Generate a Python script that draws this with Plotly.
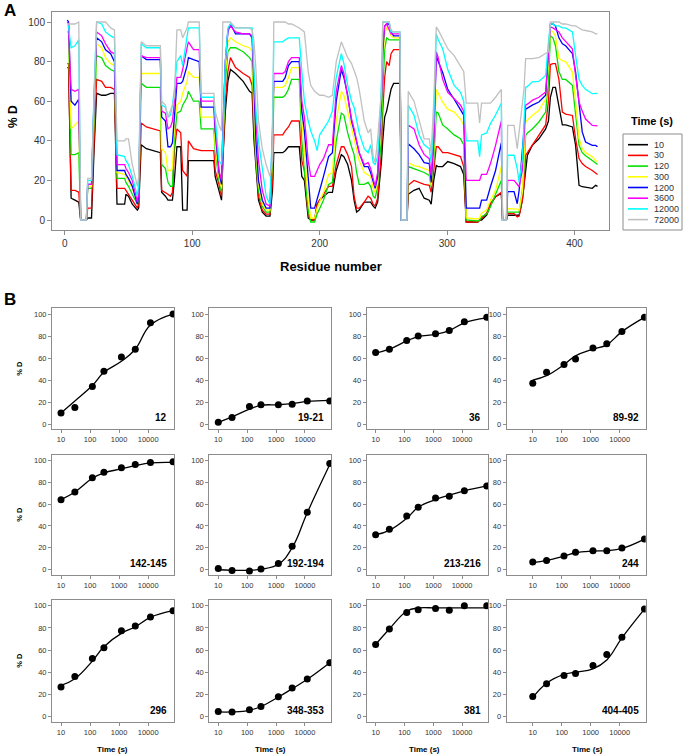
import plotly.graph_objects as go

W, H = 685, 756
FONT = "Arial, Liberation Sans, sans-serif"


def px(x):
    return x / W


def py(y):
    return 1 - y / H


# ---------------- Panel A data ----------------
residue = [
    2, 3, 4, 5, 8, 11, 12.5, 17, 18, 21,
    23, 25, 29, 32, 36, 39, 41, 47, 48, 50,
    53, 57, 58, 60, 64, 75, 76, 79, 81, 83,
    84.5, 86, 88, 91, 92.5, 96, 97, 101, 105.5, 107,
    117, 118, 121, 123, 124, 126, 128, 130, 134, 140,
    145, 147, 148.5, 150, 152, 155, 158, 161, 163, 164,
    171, 173, 175.5, 178, 184, 186, 188, 191, 193, 196,
    198, 200, 203, 207, 210, 213, 217, 219, 222, 225,
    227, 229, 231, 235, 238, 240, 242, 243.5, 245.5, 247,
    248.5, 249.5, 251, 252.5, 254.5, 256, 258, 263, 264, 268.5,
    269.5, 274, 278, 282, 286, 287.5, 289.5, 291.5, 293, 296.5,
    300.5, 305.5, 310.5, 313, 315, 324, 325.5, 327, 331, 334,
    338, 342.5, 343.5, 346.5, 347.5, 352.5, 355, 356.5, 359, 360.3,
    361.6, 363, 366.8, 372, 377.3, 379.5, 381, 383, 385, 387.7,
    390.4, 393, 398.3, 400.8, 403.5, 406, 408.6, 413.9, 416.5, 418,
]

d_10 = [
    77, 77, 45, 11, 10, 9, 0, 0, 1, 1,
    35, 64, 63, 63, 64, 64, 8, 8, 13, 12,
    8, 5, 6, 38, 36, 34, 14, 12, 10, 10,
    10, 20, 37, 37, 5, 5, 30, 30, 30, 30,
    30, 22, 15, 10, 30, 55, 70, 76, 74, 70,
    65, 64, 40, 25, 10, 4, 2, 2, 15, 34,
    34, 35, 37, 37, 37, 22, 20, 1, 0, 0,
    8, 10, 12, 14, 14, 25, 33, 32, 28, 20,
    10, 4, 5, 9, 9, 9, 7, 6, 9, 18,
    30, 40, 52, 55, 61, 66, 69, 69, 0, 0,
    13, 15, 16, 11, 10, 8, 20, 27.5, 27, 27,
    29.5, 28.5, 27, 23, -1, -1, 0, 0, 2.5, 7.6,
    11.8, 13.4, 0, 0, 2.4, 2.4, 2.4, 2.4, 10, 17.5,
    25, 32.7, 37.7, 41, 46, 50, 62, 67, 67, 58,
    48, 48, 47, 37.7, 17.5, 16.8, 16.5, 16, 17.5, 17,
]
d_30 = [
    79, 79, 45, 15, 15, 14, 0, 0, 6, 6,
    40, 71, 70, 67, 67, 66, 16, 16, 15, 13,
    10, 6, 8, 49, 47, 45, 15, 14, 13, 12,
    14, 35, 46, 44, 25, 22, 40, 36, 35, 35,
    35, 25, 18, 12, 30, 60, 75, 82, 77, 74,
    72, 68, 45, 30, 12, 5, 3, 3, 20, 43,
    43, 45, 47, 50, 50, 30, 25, 3, 0, 0,
    8, 10, 13, 17, 17, 28, 37, 37, 33, 27,
    12, 6, 6, 9, 12, 11, 8, 7, 11, 22,
    35, 55, 72, 80, 78, 84, 86, 86, 0, 0,
    17.5, 20, 19, 18, 17.5, 14, 25, 37, 37, 34,
    34, 33, 32, 27, -1, -1, 0, 1, 3.4, 8.4,
    11.8, 14, 0, 0, 3.2, 3.2, 1.5, 2, 10, 17.5,
    32.7, 34, 37.7, 42.8, 48, 60, 78.5, 79, 79, 71,
    54.5, 53.5, 52.8, 41, 31, 28.5, 27, 25, 23.4, 23,
]
d_120 = [
    95, 95, 62, 33, 33, 34, 0, 0, 16, 16,
    50, 83, 82, 78, 76, 75, 21, 21, 19, 17,
    13, 8, 10, 69, 67, 67, 28, 26, 19, 17,
    17, 40, 54, 55, 58, 62, 65, 60, 60, 46,
    46, 35, 20, 14, 35, 70, 85, 87, 87, 85,
    82, 80, 50, 30, 15, 7, 4, 4, 30, 62,
    62, 63, 66, 71, 71, 40, 25, 5, -1, -1,
    3, 6, 10, 18, 19, 40, 54, 53, 44, 37,
    33, 24, 18, 18, 19, 17, 12, 11, 17, 30,
    42, 65, 86, 92, 91, 91, 91, 91, 0, 0,
    27, 26, 25, 24, 22.5, 16.7, 30, 54.5, 54, 48,
    46, 43, 41, 38, 0, -0.5, 0, 1.7, 3, 6.7,
    13, 20, 0, 0, 4, 4, 4, 4, 15, 25,
    42.8, 44, 46, 49.5, 54.5, 70, 93, 92, 88, 75,
    71, 71, 68, 54.5, 37.7, 34, 32.5, 30, 28.5, 28,
]
d_300 = [
    97, 97, 70, 46, 48, 50, 0, 0, 17, 17,
    55, 89, 87, 82, 79, 78, 24, 23, 22, 20,
    16, 9, 12, 74, 74, 74, 36, 34, 25, 25,
    26, 48, 58, 60, 64, 70, 75, 72, 72, 52,
    52, 38, 22, 16, 40, 75, 90, 92, 90, 88,
    87, 85, 55, 35, 18, 8, 5, 5, 35, 67,
    67, 68, 72, 77, 77, 50, 35, 10, 1, 1,
    6, 9, 14, 23, 24, 50, 65, 63, 55, 46,
    41, 36, 30, 24, 23, 22, 16, 14, 19, 38,
    55, 80, 94, 97, 96, 93, 92, 92, 0, 0,
    29, 27.5, 27, 26, 25, 17.5, 35, 66, 64, 59.5,
    56, 54.5, 51, 48, 1, 0.5, 1, 3.4, 5, 10,
    15, 27, 0, 0, 5.7, 5.7, 5.5, 5, 14, 30,
    49.5, 50.5, 52.8, 55.4, 61, 80, 96, 95, 93, 81.5,
    80.5, 80, 74.7, 59.6, 41, 36, 34, 32, 30, 29.5,
]
d_1200 = [
    101, 100, 78, 60, 58, 61, 0, 0, 18, 18,
    60, 92, 90, 86, 84, 80, 25, 25, 23, 21,
    17, 8, 12, 83, 81, 81, 52, 50, 37, 37,
    39, 52, 69, 69, 70, 78, 82, 81, 80, 57,
    57, 45, 24, 18, 45, 80, 95, 99, 94, 94,
    94, 92, 62, 40, 20, 10, 6, 6, 40, 70,
    70, 72, 78, 80, 80, 55, 45, 20, 6, 6,
    10, 15, 22, 32, 34, 60, 76, 72, 63, 50,
    45, 40, 34, 27, 27, 24, 19, 16, 22, 42,
    60, 85, 98, 99, 99, 95, 93, 93, 0, 0,
    38.5, 36, 33, 29, 28.5, 19, 40, 83, 80, 74.5,
    66, 61, 56, 53, 6, 6, 6, 10, 10, 16.8,
    25, 39, 0, 0, 14.3, 14.3, 8.2, 15, 35, 45,
    56, 56.5, 58, 59.6, 63, 85, 99, 99, 98, 92,
    89, 88, 84, 74.7, 59.6, 44.5, 39.4, 37.7, 37.7, 37,
]
d_3600 = [
    100, 99, 80, 66, 65, 66, 0, 0, 18, 18,
    62, 95, 93, 89, 85, 84, 28, 28, 26, 24,
    20, 9, 14, 83, 82, 82, 55, 54, 46, 47,
    50, 61, 72, 72, 76, 87, 90, 86, 86, 60,
    60, 48, 25, 20, 45, 80, 96, 98, 95, 94,
    94, 93, 68, 50, 30, 15, 8, 7, 45, 74,
    74, 75, 80, 82, 82, 60, 52, 30, 22, 22,
    25, 28, 31, 38, 38, 65, 78, 74, 62, 51,
    46, 40, 34, 28, 29, 26, 20, 17, 24, 44,
    62, 88, 98, 99, 96, 94, 94, 94, 0, 0,
    48, 46, 38, 33, 31, 22.5, 40, 85, 82, 71,
    64.5, 61, 58, 55, 20, 20, 20, 23, 23, 28.5,
    37.7, 50, 0, 0, 20, 20, 18, 16.8, 25, 40,
    58, 58.5, 60.4, 62, 64.6, 85, 97.5, 97, 96, 95,
    92, 90, 86.5, 73, 59.6, 55, 51, 47.8, 47.8, 47.5,
]
d_12000 = [
    98, 98, 92, 87, 88, 91, 0, 0, 20, 20,
    65, 100, 99, 95, 93, 92, 33, 32, 30, 28,
    22, 12, 18, 89, 87, 87, 58, 57, 52, 53,
    58, 66, 80, 83, 78, 94, 97, 97, 97, 62,
    62, 52, 30, 28, 40, 80, 97, 99, 97, 97,
    97, 97, 75, 55, 40, 25, 12, 8, 50, 90,
    90, 91, 92, 92, 92, 75, 60, 50, 45, 40,
    35, 43, 46, 50, 55, 72, 84, 79, 68, 60,
    57, 50, 44, 36, 34, 38, 29, 28, 32, 46,
    70, 100, 100, 100, 100, 95, 95, 95, 0, 0,
    58, 53, 43, 38, 36, 29, 50, 94, 91, 86.5,
    76, 68, 64.5, 60, 40, 40, 32, 43, 44, 48.7,
    53, 59, 0, 0, 32.7, 32.7, 26, 19, 31, 50,
    67, 67.5, 69.8, 70, 73, 90, 99, 99, 98, 98,
    97, 97, 95, 83, 71, 68, 66, 63.8, 63.8, 64,
]
d_72000 = [
    99, 99, 99, 99, 99, 100, 0, 0, 21, 21,
    65, 100, 100, 100, 97, 96, 40, 40, 41, 41,
    28, 17, 22, 90, 88, 88, 60, 58, 52, 55,
    58, 62, 96, 96, 92, 97, 100, 100, 100, 64,
    64, 55, 48, 45, 100, 100, 100, 100, 97, 97,
    97, 96, 90, 76, 50, 36, 28, 22, 30, 100,
    100, 100, 99, 99, 97, 96, 95, 75, 68, 65,
    64, 63, 63, 62, 63, 80, 90, 87, 82, 79,
    75, 72, 66, 50, 44, 46, 32, 29, 41, 55,
    65, 100, 100, 100, 100, 96, 95, 95, 0, 0,
    65, 60, 51, 41, 41, 34, 60, 97.5, 96, 91.5,
    86.5, 83, 78, 75, 59, 59, 49, 59, 59, 59,
    62, 66, 0, 0, 47.8, 47.8, 36, 45, 58, 66,
    81.5, 81.5, 81.5, 82, 84, 85, 100, 100, 100, 100,
    99, 99, 98, 98, 97, 96, 95.7, 95, 94, 94,
]

time_labels = ["10", "30", "120", "300", "1200", "3600", "12000", "72000"]
series_A = [d_10, d_30, d_120, d_300, d_1200, d_3600, d_12000, d_72000]
colors = ["#000000", "#ff0000", "#00e000", "#ffff00", "#0000ff", "#ff00ff", "#00ffff", "#c0c0c0"]

# ---------------- Panel B data ----------------
times = [10, 30, 120, 300, 1200, 3600, 12000, 72000]
x_ticks = [10, 100, 1000, 10000]
y_ticks = [0, 20, 40, 60, 80, 100]

peptides = ["12", "19-21", "36", "89-92", "142-145", "192-194",
            "213-216", "244", "296", "348-353", "381", "404-405"]

obs_12 = [10, 15, 34, 48, 61, 68, 92, 100]
fit_12 = [10, 21, 35, 47, 57, 68, 90, 100]
obs_19_21 = [1.5, 6, 16, 17.5, 17.5, 18, 21, 21]
fit_19_21 = [1.5, 6.5, 13.5, 17, 17.5, 18.5, 20.5, 21.5]
obs_36 = [65, 68, 76, 80, 82, 85, 93, 97]
fit_36 = [64.5, 68, 75.5, 79.5, 81.5, 85, 92, 96.5]
obs_89_92 = [37, 47, 54, 59, 69, 73, 84, 97]
fit_89_92 = [40, 44, 54, 62, 68, 72, 84, 97]
obs_142_145 = [64, 71, 84, 89, 93, 96, 98, 98.5]
fit_142_145 = [64, 71, 83.5, 88.5, 92, 95, 97.5, 98]
obs_192_194 = [1.2, -0.6, -1.2, 0.6, 5.8, 21.5, 52.4, 97]
fit_192_194 = [0, -0.5, -0.5, 0.5, 5, 20, 52, 96]
obs_213_216 = [32, 37, 49, 57, 65.5, 67, 72, 76.5]
fit_213_216 = [32, 36, 47, 57, 64, 68, 72, 76.5]
obs_244 = [7, 8.4, 12.6, 16, 17.4, 17.4, 19.8, 28]
fit_244 = [6.5, 8.5, 12.5, 15.5, 17, 17.5, 19.5, 28]
obs_296 = [26.5, 36, 52.4, 62, 77.4, 81.6, 89.8, 95.5]
fit_296 = [28, 34, 50, 63, 75, 81, 89.5, 95.5]
obs_348_353 = [4.5, 4, 6, 9, 17.8, 25.6, 33.7, 48.5]
fit_348_353 = [4, 4, 5.5, 9, 17.5, 25, 33.5, 48.5]
obs_381 = [65, 79, 94, 96.5, 97.6, 96, 100, 100]
fit_381 = [65, 79, 95, 98, 98, 98, 98, 98]
obs_404_405 = [18, 29.4, 37, 38.7, 46, 56, 71.5, 97]
fit_404_405 = [17, 30, 38, 40, 43, 51, 71, 97]

obs_all = [obs_12, obs_19_21, obs_36, obs_89_92, obs_142_145, obs_192_194,
           obs_213_216, obs_244, obs_296, obs_348_353, obs_381, obs_404_405]
fit_all = [fit_12, fit_19_21, fit_36, fit_89_92, fit_142_145, fit_192_194,
           fit_213_216, fit_244, fit_296, fit_348_353, fit_381, fit_404_405]

# ---------------- Layout geometry (pixels) ----------------
col_px = [(52, 174.3), (209.3, 331), (366.7, 488), (506.7, 645.7)]
row_px = [(308.3, 429.3), (454.5, 575), (600, 721.7)]
x_ranges = [[0.69, 4.9], [0.69, 4.9], [0.69, 4.9], [0.10, 4.9]]
time_title_x = [112, 270, 424, 587]

AX_COL = "#8c8c8c"
TICK_COL = "#333333"

fig = go.Figure()

# Panel A traces
for lab, col, vals in zip(time_labels, colors, series_A):
    fig.add_trace(go.Scatter(x=residue, y=vals, mode="lines", name=lab,
                             line=dict(color=col, width=1.3),
                             xaxis="x", yaxis="y", showlegend=False))

layout = dict(
    width=W, height=H,
    margin=dict(l=0, r=0, t=0, b=0),
    paper_bgcolor="white", plot_bgcolor="white",
    font=dict(family=FONT, color=TICK_COL),
    showlegend=False,
)

layout["xaxis"] = dict(
    domain=[px(52), px(609)], anchor="y", range=[-10, 427],
    tickvals=[0, 100, 200, 300, 400], ticks="outside", ticklen=4,
    tickcolor=AX_COL, showline=True, mirror=True, linecolor=AX_COL,
    linewidth=1, showgrid=False, zeroline=False,
    tickfont=dict(size=10, color=TICK_COL),
)
layout["yaxis"] = dict(
    domain=[py(230), py(12)], anchor="x", range=[-5.05, 105.05],
    tickvals=[0, 20, 40, 60, 80, 100], ticks="outside", ticklen=4,
    tickcolor=AX_COL, showline=True, mirror=True, linecolor=AX_COL,
    linewidth=1, showgrid=False, zeroline=False,
    tickfont=dict(size=10, color=TICK_COL),
)

annotations = []
shapes = []

annotations.append(dict(text="<b>A</b>", x=px(2), y=py(11), xref="paper", yref="paper",
                        xanchor="left", yanchor="middle", showarrow=False,
                        font=dict(size=17, color="black")))
annotations.append(dict(text="<b>B</b>", x=px(2), y=py(300), xref="paper", yref="paper",
                        xanchor="left", yanchor="middle", showarrow=False,
                        font=dict(size=17, color="black")))
annotations.append(dict(text="<b>% D</b>", x=px(13), y=py(117), xref="paper", yref="paper",
                        xanchor="center", yanchor="middle", showarrow=False, textangle=-90,
                        font=dict(size=12, color="black")))
annotations.append(dict(text="<b>Residue number</b>", x=px(331), y=py(266), xref="paper",
                        yref="paper", xanchor="center", yanchor="middle", showarrow=False,
                        font=dict(size=13, color="black")))

# Legend for panel A (drawn manually)
shapes.append(dict(type="rect", xref="paper", yref="paper", x0=px(623), x1=px(682),
                   y0=py(230), y1=py(134), line=dict(color=AX_COL, width=1),
                   fillcolor="white", layer="above"))
annotations.append(dict(text="<b>Time (s)</b>", x=px(652), y=py(121), xref="paper",
                        yref="paper", xanchor="center", yanchor="middle", showarrow=False,
                        font=dict(size=11, color="black")))
leg_y = [144.7, 155.4, 166.1, 176.8, 187.5, 198.2, 208.9, 219.6]
for lab, col, yy in zip(time_labels, colors, leg_y):
    shapes.append(dict(type="line", xref="paper", yref="paper", x0=px(628), x1=px(648),
                       y0=py(yy), y1=py(yy), line=dict(color=col, width=1.6), layer="above"))
    annotations.append(dict(text=lab, x=px(652), y=py(yy), xref="paper", yref="paper",
                            xanchor="left", yanchor="middle", showarrow=False,
                            font=dict(size=9, color=TICK_COL)))

# Panel B
for k, (pep, ob, ft) in enumerate(zip(peptides, obs_all, fit_all)):
    r, c = divmod(k, 4)
    n = k + 2
    xa, ya = f"x{n}", f"y{n}"
    fig.add_trace(go.Scatter(x=times, y=ft, mode="lines",
                             line=dict(color="black", width=1.3, shape="spline", smoothing=1.2),
                             xaxis=xa, yaxis=ya, showlegend=False))
    fig.add_trace(go.Scatter(x=times, y=ob, mode="markers",
                             marker=dict(color="black", size=7),
                             xaxis=xa, yaxis=ya, showlegend=False))
    x0, x1 = col_px[c]
    y0, y1 = row_px[r]
    layout[f"xaxis{n}"] = dict(
        domain=[px(x0), px(x1)], anchor=ya, type="log", range=x_ranges[c],
        tickvals=x_ticks, ticktext=[str(v) for v in x_ticks],
        ticks="outside", ticklen=3, tickcolor=AX_COL,
        showline=True, mirror=True, linecolor=AX_COL, linewidth=1,
        showgrid=False, zeroline=False,
        tickfont=dict(size=7.5, color=TICK_COL),
    )
    layout[f"yaxis{n}"] = dict(
        domain=[py(y1), py(y0)], anchor=xa, range=[-4.8, 105.2],
        tickvals=y_ticks, ticks="outside", ticklen=3, tickcolor=AX_COL,
        showline=True, mirror=True, linecolor=AX_COL, linewidth=1,
        showgrid=False, zeroline=False,
        tickfont=dict(size=7.5, color=TICK_COL),
    )
    annotations.append(dict(text=f"<b>{pep}</b>", x=1, y=0, xref=f"{xa} domain",
                            yref=f"{ya} domain", xanchor="right", yanchor="bottom",
                            xshift=-5, yshift=4, showarrow=False,
                            font=dict(size=10, color="black")))
    if c == 0:
        annotations.append(dict(text="<b>% D</b>", x=px(20), y=py((y0 + y1) / 2),
                                xref="paper", yref="paper", xanchor="center",
                                yanchor="middle", showarrow=False, textangle=-90,
                                font=dict(size=7.5, color="black")))
    if r == 2:
        annotations.append(dict(text="<b>Time (s)</b>", x=px(time_title_x[c]), y=py(749),
                                xref="paper", yref="paper", xanchor="center",
                                yanchor="middle", showarrow=False,
                                font=dict(size=8, color="black")))

layout["annotations"] = annotations
layout["shapes"] = shapes
fig.update_layout(**layout)

fig.write_html("out.html", config={"displayModeBar": False},
               post_script="document.body.style.margin='0px';")
